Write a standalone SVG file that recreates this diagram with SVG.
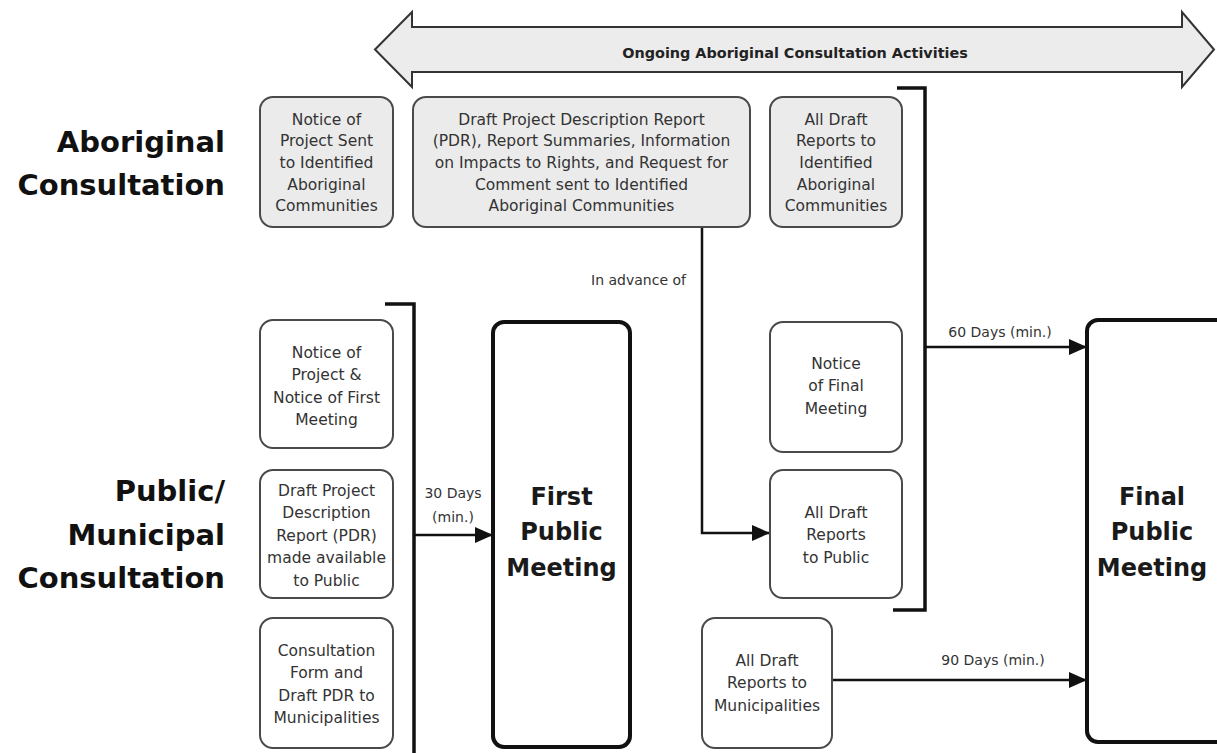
<svg xmlns="http://www.w3.org/2000/svg" width="1217" height="753" viewBox="0 0 1217 753">
<style>
.bg{fill:#ffffff}
.abox{fill:#ebebeb;stroke:#4a4a4a;stroke-width:2}
.pbox{fill:#ffffff;stroke:#4a4a4a;stroke-width:2}
.big{fill:#ffffff;stroke:#111111;stroke-width:4}
.t{font-family:"DejaVu Sans","Liberation Sans",sans-serif;font-size:15.5px;fill:#333333;text-anchor:middle}
.bt{font-family:"DejaVu Sans","Liberation Sans",sans-serif;font-size:24px;font-weight:bold;fill:#1a1a1a;text-anchor:middle}
.hd{font-family:"DejaVu Sans","Liberation Sans",sans-serif;font-size:29px;font-weight:bold;fill:#111111;text-anchor:end}
.lb{font-family:"DejaVu Sans","Liberation Sans",sans-serif;font-size:14px;fill:#333333;text-anchor:middle}
.ln{fill:none;stroke:#111111;stroke-width:2.5}
.br{fill:none;stroke:#111111;stroke-width:3.5}
</style>
<defs>
<marker id="ah" markerUnits="userSpaceOnUse" markerWidth="18" markerHeight="16" refX="18" refY="8" orient="auto">
<path d="M0,0 L18,8 L0,16 Z" fill="#111111"/>
</marker>
</defs>
<rect class="bg" x="0" y="0" width="1217" height="753"/>

<g id="ongoing-arrow">
<path d="M375,49.5 L412,12 L412,27 L1182,27 L1182,12 L1214,49.5 L1182,87 L1182,72 L412,72 L412,87 Z" fill="#ececec" stroke="#333333" stroke-width="2" stroke-linejoin="miter"/>
<text x="795" y="58" font-family="DejaVu Sans, Liberation Sans, sans-serif" font-size="14.4" font-weight="bold" fill="#222222" text-anchor="middle">Ongoing Aboriginal Consultation Activities</text>
</g>

<g id="label-aboriginal">
<text class="hd" x="225" y="152">Aboriginal</text>
<text class="hd" x="225" y="195">Consultation</text>
</g>
<g id="label-public">
<text class="hd" x="225" y="501">Public/</text>
<text class="hd" x="225" y="545">Municipal</text>
<text class="hd" x="225" y="588">Consultation</text>
</g>

<g id="connectors">
<path class="br" d="M385,304 L414,304 L414,760"/>
<path class="ln" d="M414,535 L493,535" marker-end="url(#ah)"/>
<text class="lb" x="453" y="498">30 Days</text>
<text class="lb" x="453" y="522">(min.)</text>
<path class="br" d="M897,88 L925,88 L925,610 L893,610"/>
<path class="ln" d="M925,347 L1087,347" marker-end="url(#ah)"/>
<text class="lb" x="1000" y="337">60 Days (min.)</text>
<path class="ln" d="M702,227 L702,533 L770,533" marker-end="url(#ah)"/>
<text class="lb" x="686" y="285" style="text-anchor:end">In advance of</text>
<path class="ln" d="M832,680 L1087,680" marker-end="url(#ah)"/>
<text class="lb" x="993" y="665">90 Days (min.)</text>
</g>

<g id="notice-project-aboriginal">
<rect class="abox" x="260" y="97" width="133" height="130" rx="13"/>
<text class="t" x="326.5" y="124.5">Notice of</text>
<text class="t" x="326.5" y="146.2">Project Sent</text>
<text class="t" x="326.5" y="167.9">to Identified</text>
<text class="t" x="326.5" y="189.6">Aboriginal</text>
<text class="t" x="326.5" y="211.3">Communities</text>
</g>

<g id="draft-pdr-aboriginal">
<rect class="abox" x="413" y="97" width="337" height="130" rx="13"/>
<text class="t" x="581.5" y="124.5">Draft Project Description Report</text>
<text class="t" x="581.5" y="146.2">(PDR), Report Summaries, Information</text>
<text class="t" x="581.5" y="167.9">on Impacts to Rights, and Request for</text>
<text class="t" x="581.5" y="189.6">Comment sent to Identified</text>
<text class="t" x="581.5" y="211.3">Aboriginal Communities</text>
</g>

<g id="all-draft-aboriginal">
<rect class="abox" x="770" y="97" width="132" height="130" rx="13"/>
<text class="t" x="836" y="124.5">All Draft</text>
<text class="t" x="836" y="146.2">Reports to</text>
<text class="t" x="836" y="167.9">Identified</text>
<text class="t" x="836" y="189.6">Aboriginal</text>
<text class="t" x="836" y="211.3">Communities</text>
</g>

<g id="notice-first-meeting">
<rect class="pbox" x="260" y="320" width="133" height="128" rx="13"/>
<text class="t" x="326.5" y="357.5">Notice of</text>
<text class="t" x="326.5" y="380">Project &amp;</text>
<text class="t" x="326.5" y="402.5">Notice of First</text>
<text class="t" x="326.5" y="425">Meeting</text>
</g>

<g id="draft-pdr-public">
<rect class="pbox" x="260" y="470" width="133" height="128" rx="13"/>
<text class="t" x="326.5" y="495.5">Draft Project</text>
<text class="t" x="326.5" y="518">Description</text>
<text class="t" x="326.5" y="540.5">Report (PDR)</text>
<text class="t" x="326.5" y="563">made available</text>
<text class="t" x="326.5" y="585.5">to Public</text>
</g>

<g id="consultation-form">
<rect class="pbox" x="260" y="618" width="133" height="130" rx="13"/>
<text class="t" x="326.5" y="655.5">Consultation</text>
<text class="t" x="326.5" y="678">Form and</text>
<text class="t" x="326.5" y="700.5">Draft PDR to</text>
<text class="t" x="326.5" y="723">Municipalities</text>
</g>

<g id="first-public-meeting">
<rect class="big" x="493" y="322" width="137" height="425" rx="11"/>
<text class="bt" x="561.5" y="505">First</text>
<text class="bt" x="561.5" y="540">Public</text>
<text class="bt" x="561.5" y="576">Meeting</text>
</g>

<g id="notice-final-meeting">
<rect class="pbox" x="770" y="322" width="132" height="130" rx="13"/>
<text class="t" x="836" y="368.5">Notice</text>
<text class="t" x="836" y="391">of Final</text>
<text class="t" x="836" y="413.5">Meeting</text>
</g>

<g id="all-draft-public">
<rect class="pbox" x="770" y="470" width="132" height="128" rx="13"/>
<text class="t" x="836" y="517.5">All Draft</text>
<text class="t" x="836" y="540">Reports</text>
<text class="t" x="836" y="562.5">to Public</text>
</g>

<g id="all-draft-municipalities">
<rect class="pbox" x="702" y="618" width="130" height="130" rx="13"/>
<text class="t" x="767" y="665.5">All Draft</text>
<text class="t" x="767" y="688">Reports to</text>
<text class="t" x="767" y="710.5">Municipalities</text>
</g>

<g id="final-public-meeting">
<rect class="big" x="1087" y="320" width="140" height="422" rx="11"/>
<text class="bt" x="1152" y="505">Final</text>
<text class="bt" x="1152" y="540">Public</text>
<text class="bt" x="1152" y="576">Meeting</text>
</g>
</svg>
